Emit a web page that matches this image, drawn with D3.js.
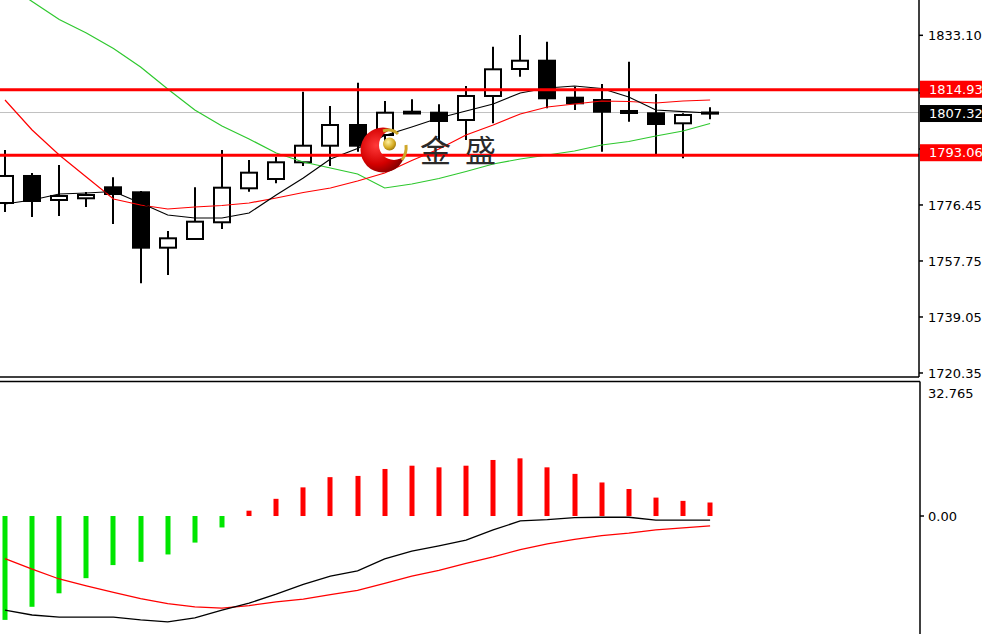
<!DOCTYPE html>
<html><head><meta charset="utf-8">
<script src="https://cdn.jsdelivr.net/npm/d3@7"></script>
<style>html,body{margin:0;padding:0;background:#fff;overflow:hidden}</style>
</head><body>
<svg id="c" width="982" height="634"></svg>
<script>
// ---- data ----
const opens  = [1777.11,1786.13,1778.11,1778.68,1782.35,1780.68,1762.19,1765.09,1770.67,1782.02,1785.12,1790.70,1796.24,1803.15,1799.81,1806.99,1807.26,1804.82,1812.84,1821.85,1824.62,1812.27,1811.50,1807.83,1807.06,1803.72,1806.95];
const highs  = [1794.81,1787.13,1789.80,1780.78,1785.69,1781.12,1767.76,1782.35,1794.81,1791.47,1792.57,1814.27,1809.50,1817.28,1811.17,1811.73,1810.06,1816.18,1829.30,1833.20,1830.97,1815.94,1816.84,1824.29,1813.50,1807.06,1809.06];
const lows   = [1774.11,1772.44,1772.77,1775.78,1770.10,1750.30,1753.07,1765.09,1768.43,1780.88,1783.69,1789.46,1789.46,1794.24,1796.48,1806.99,1798.15,1798.15,1803.72,1819.28,1808.73,1808.16,1794.24,1804.26,1793.14,1792.04,1805.06];
const closes = [1786.13,1777.78,1779.45,1779.78,1780.11,1762.19,1765.32,1770.87,1782.22,1787.23,1790.70,1796.24,1803.15,1796.24,1807.26,1807.59,1804.49,1812.84,1821.75,1824.62,1812.07,1810.40,1807.59,1807.16,1803.49,1806.49,1807.32];

const maFast = [1776.78,1778.11,1780.11,1780.45,1780.95,1777.11,1773.10,1772.10,1772.10,1773.77,1779.78,1785.46,1791.80,1795.31,1799.65,1802.49,1805.49,1807.83,1810.17,1813.84,1815.51,1816.18,1815.34,1812.50,1808.16,1807.59,1807.16];
const maMid  = [1811.50,1801.48,1793.14,1785.79,1778.45,1776.44,1775.11,1775.78,1776.27,1777.11,1778.78,1780.62,1782.12,1784.46,1787.13,1791.30,1795.14,1799.81,1803.15,1806.83,1809.16,1810.17,1811.17,1811.00,1810.50,1811.17,1811.50];
const maSlow = [1850.57,1844.39,1838.38,1833.87,1828.70,1822.52,1815.17,1808.16,1802.82,1798.48,1793.80,1790.80,1788.80,1786.79,1782.12,1783.45,1785.29,1787.63,1790.13,1791.80,1793.14,1794.47,1796.48,1797.64,1799.48,1801.15,1803.65];

const macdHist   = [-25.4,-22.2,-18.9,-15.2,-12.0,-11.2,-9.4,-6.5,-2.8,1.3,4.2,7.0,9.5,9.8,11.5,12.3,11.9,12.3,13.7,14.1,11.9,10.3,8.2,6.6,4.5,3.7,3.3];
const macdMain   = [-23.0,-24.2,-24.7,-24.7,-24.7,-25.4,-25.9,-24.9,-23.0,-21.3,-19.1,-16.7,-14.7,-13.4,-10.5,-8.6,-7.3,-5.9,-3.4,-1.2,-0.9,-0.4,-0.3,-0.3,-1.0,-1.0,-1.0];
const macdSignal = [-10.4,-13.0,-15.4,-17.1,-18.7,-20.2,-21.4,-22.2,-22.5,-21.9,-21.0,-20.3,-19.2,-18.2,-16.5,-14.7,-13.3,-11.6,-10.0,-8.2,-6.8,-5.7,-4.8,-4.2,-3.4,-2.9,-2.4];

const priceTicks = [1720.35,1739.05,1757.75,1776.45,1795.15,1813.85,1833.10];
const levelLines = [1814.93, 1793.06];
const currentPrice = 1807.32;
const macdTicks = [0];
const macdTop = 32.765;
const logoText = ["金","盛"];

// ---- layout ----
const svg = d3.select("#c");
const W = 982, H = 634, plotR = 919, mainB = 377, subT = 381.5;
const font = "DejaVu Sans, Verdana, sans-serif";
const idx = d3.range(opens.length);
const x = d3.scaleLinear().domain([0, 26]).range([5, 710.1]);
const y = d3.scaleLinear().domain([1719.01, 1844.89]).range([377, 0]);
const ym = d3.scaleLinear().domain([-28.85, macdTop]).range([634, 382]);

const defs = svg.append("defs");
defs.append("clipPath").attr("id","cm").append("rect").attr("x",0).attr("y",0).attr("width",plotR).attr("height",mainB);
defs.append("clipPath").attr("id","cs").append("rect").attr("x",0).attr("y",subT+1).attr("width",plotR).attr("height",H-subT);

const gMain = svg.append("g").attr("clip-path","url(#cm)");
gMain.append("line").attr("x1",0).attr("x2",plotR).attr("y1",y(currentPrice)).attr("y2",y(currentPrice))
  .attr("stroke","#c0c0c0").attr("stroke-width",1);

// candles
const bw = 16;
const cg = gMain.append("g");
idx.forEach(i => {
  const cx = Math.round(x(i));
  cg.append("line").attr("x1",cx).attr("x2",cx).attr("y1",y(highs[i])).attr("y2",y(lows[i]))
    .attr("stroke","#000").attr("stroke-width",2);
  const top = y(Math.max(opens[i],closes[i])), bot = y(Math.min(opens[i],closes[i]));
  const up = closes[i] >= opens[i];
  cg.append("rect").attr("x",cx-bw/2).attr("y",top).attr("width",bw).attr("height",Math.max(0.5,bot-top))
    .attr("fill", up ? "#fff" : "#000").attr("stroke","#000").attr("stroke-width",2);
});

// moving averages
const lineGen = arr => d3.line().x((d,i)=>x(i)).y(d=>y(d))(arr);
gMain.append("path").attr("d",lineGen(maSlow)).attr("fill","none").attr("stroke","#2ec82e").attr("stroke-width",1.2);
gMain.append("path").attr("d",lineGen(maMid)).attr("fill","none").attr("stroke","#ff0000").attr("stroke-width",1.2);
gMain.append("path").attr("d",lineGen(maFast)).attr("fill","none").attr("stroke","#000").attr("stroke-width",1.2);

levelLines.forEach(v => {
  gMain.append("line").attr("x1",0).attr("x2",plotR).attr("y1",y(v)).attr("y2",y(v))
    .attr("stroke","#ff0000").attr("stroke-width",3);
});

// logo
const lg = svg.append("g");
const rg = defs.append("radialGradient").attr("id","rg").attr("cx","35%").attr("cy","40%").attr("r","70%");
rg.append("stop").attr("offset","0%").attr("stop-color","#ff3a3a");
rg.append("stop").attr("offset","60%").attr("stop-color","#d40000");
rg.append("stop").attr("offset","100%").attr("stop-color","#7a0000");
const mk = defs.append("mask").attr("id","mk");
mk.append("rect").attr("x",0).attr("y",0).attr("width",W).attr("height",H).attr("fill","#fff");
mk.append("circle").attr("cx",394).attr("cy",145).attr("r",15).attr("fill","#000");
lg.append("circle").attr("cx",383).attr("cy",150).attr("r",22.5).attr("fill","url(#rg)").attr("mask","url(#mk)");
const gg = defs.append("radialGradient").attr("id","gg").attr("cx","40%").attr("cy","35%").attr("r","65%");
gg.append("stop").attr("offset","0%").attr("stop-color","#fff2a0");
gg.append("stop").attr("offset","70%").attr("stop-color","#d4aa20");
gg.append("stop").attr("offset","100%").attr("stop-color","#a07a10");
lg.append("circle").attr("cx",389.5).attr("cy",144).attr("r",6.5).attr("fill","url(#gg)");
lg.append("path").attr("d","M383,131 Q392,128 398,134").attr("fill","none").attr("stroke","#cfa72a").attr("stroke-width",3);
lg.append("path").attr("d","M406,145 Q407,153 402,160").attr("fill","none").attr("stroke","#cfa72a").attr("stroke-width",3);
lg.append("text").attr("x",420).attr("y",162).attr("font-family","Noto Sans CJK SC").attr("font-size",31)
  .attr("fill","#2a2a2a").text(logoText[0]);
lg.append("text").attr("x",465).attr("y",162).attr("font-family","Noto Sans CJK SC").attr("font-size",31)
  .attr("fill","#2a2a2a").text(logoText[1]);

// MACD sub window
const gSub = svg.append("g").attr("clip-path","url(#cs)");
idx.forEach(i => {
  const v = macdHist[i];
  gSub.append("rect").attr("x",Math.round(x(i))-2.5).attr("width",5)
    .attr("y", Math.min(ym(v), ym(0))).attr("height", Math.abs(ym(v)-ym(0)))
    .attr("fill", v >= 0 ? "#ff0000" : "#00e600");
});
const mline = arr => d3.line().x((d,i)=>x(i)).y(d=>ym(d))(arr);
gSub.append("path").attr("d",mline(macdSignal)).attr("fill","none").attr("stroke","#ff0000").attr("stroke-width",1.3);
gSub.append("path").attr("d",mline(macdMain)).attr("fill","none").attr("stroke","#000").attr("stroke-width",1.3);

// frames
svg.append("line").attr("x1",plotR).attr("x2",plotR).attr("y1",0).attr("y2",mainB).attr("stroke","#000").attr("stroke-width",1.5);
svg.append("line").attr("x1",0).attr("x2",plotR).attr("y1",mainB).attr("y2",mainB).attr("stroke","#000").attr("stroke-width",1.5);
svg.append("line").attr("x1",0).attr("x2",plotR+1).attr("y1",subT).attr("y2",subT).attr("stroke","#000").attr("stroke-width",1.5);
svg.append("line").attr("x1",plotR+1).attr("x2",plotR+1).attr("y1",subT).attr("y2",H).attr("stroke","#000").attr("stroke-width",1.5);

// tags (price boxes) positions
const tags = [
  {v: levelLines[0], fill: "#ff0000", cy: y(levelLines[0]) - 0.5},
  {v: currentPrice, fill: "#000", cy: y(currentPrice) + 1},
  {v: levelLines[1], fill: "#ff0000", cy: y(levelLines[1]) - 2.5}
];
const tagH = 17;

// price axis
const ax = svg.append("g");
tags.forEach((t,k) => {
  defs.append("clipPath").attr("id","tc"+k); // placeholder
});
// clip for tick labels: area outside tags
const outside = defs.append("clipPath").attr("id","outside");
let prev = 0;
tags.slice().sort((a,b)=>a.cy-b.cy).forEach(t => {
  outside.append("rect").attr("x",plotR).attr("y",prev).attr("width",W-plotR).attr("height",Math.max(0,t.cy-tagH/2-prev));
  prev = t.cy + tagH/2;
});
outside.append("rect").attr("x",plotR).attr("y",prev).attr("width",W-plotR).attr("height",mainB+20-prev);

priceTicks.forEach(v => {
  const py = y(v);
  ax.append("line").attr("x1",plotR).attr("x2",plotR+4).attr("y1",py).attr("y2",py).attr("stroke","#000").attr("stroke-width",1.5);
  const hidden = tags.some(t => Math.abs(t.cy - py) < 4);
  if (hidden) return; // fully covered by a price box
  ax.append("text").attr("x",928).attr("y",py).attr("dy","0.36em").attr("font-family",font).attr("font-size",13)
    .attr("clip-path","url(#outside)").attr("fill","#000").text(v.toFixed(2));
});
tags.forEach(t => {
  ax.append("rect").attr("x",920).attr("y",t.cy-tagH/2).attr("width",63).attr("height",tagH).attr("fill",t.fill);
  ax.append("text").attr("x",929).attr("y",t.cy).attr("dy","0.36em").attr("font-family",font).attr("font-size",13)
    .attr("fill","#fff").text(t.v.toFixed(2));
});

// macd axis
macdTicks.forEach(v => {
  ax.append("line").attr("x1",plotR+1).attr("x2",plotR+5).attr("y1",ym(v)).attr("y2",ym(v)).attr("stroke","#000").attr("stroke-width",1.5);
  ax.append("text").attr("x",928).attr("y",ym(v)).attr("dy","0.36em").attr("font-family",font).attr("font-size",13)
    .attr("fill","#000").text(v.toFixed(2));
});
ax.append("text").attr("x",928).attr("y",ym(macdTop)+11).attr("dy","0.36em").attr("font-family",font).attr("font-size",13)
  .attr("fill","#000").text(macdTop.toFixed(3));
</script>
</body></html>
